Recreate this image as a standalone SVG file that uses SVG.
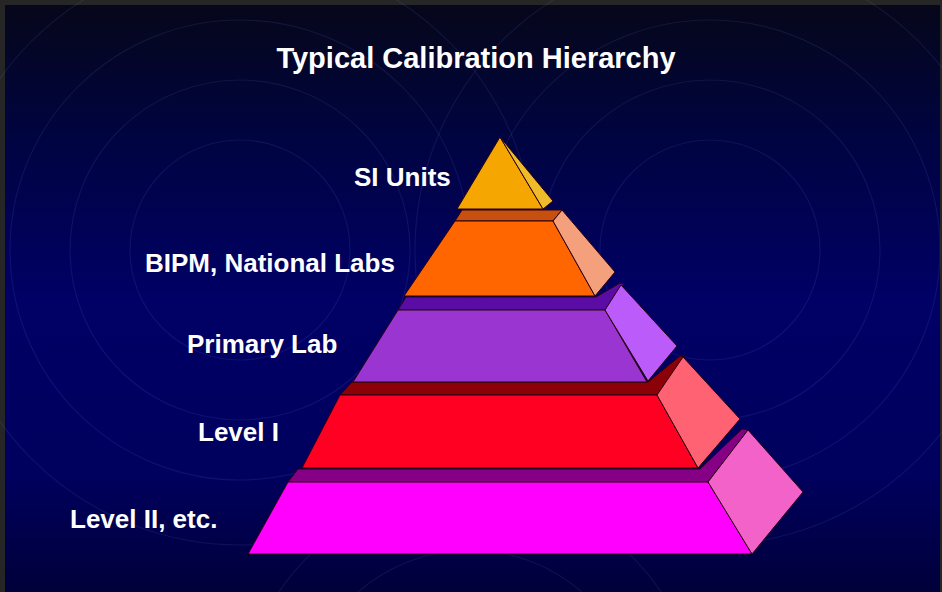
<svg xmlns="http://www.w3.org/2000/svg" width="942" height="592" viewBox="0 0 942 592">
  <defs>
    <linearGradient id="bg" x1="0" y1="0" x2="0" y2="1">
      <stop offset="0" stop-color="#06071a"/>
      <stop offset="0.22" stop-color="#00043f"/>
      <stop offset="0.5" stop-color="#000066"/>
      <stop offset="0.8" stop-color="#00005e"/>
      <stop offset="1" stop-color="#00003a"/>
    </linearGradient>
    <style>
      .arc { fill: none; stroke: #6f7fe0; stroke-opacity: 0.13; stroke-width: 1.2; }
      .face { stroke: #2a0010; stroke-width: 1; stroke-linejoin: round; }
      .lbl { font-family: "Liberation Sans", Arial, sans-serif; font-weight: bold; fill: #ffffff; font-size: 26px; }
      .title { font-family: "Liberation Sans", Arial, sans-serif; font-weight: bold; fill: #ffffff; font-size: 29px; }
    </style>
  </defs>

  <rect x="0" y="0" width="942" height="592" fill="#262626"/>
  <rect x="5" y="5" width="935" height="587" fill="url(#bg)"/>

  <g id="background-arcs">
    <circle class="arc" cx="240" cy="250" r="110"/>
    <circle class="arc" cx="240" cy="250" r="170"/>
    <circle class="arc" cx="240" cy="250" r="230"/>
    <circle class="arc" cx="240" cy="250" r="295"/>
    <circle class="arc" cx="710" cy="250" r="110"/>
    <circle class="arc" cx="710" cy="250" r="170"/>
    <circle class="arc" cx="710" cy="250" r="230"/>
    <circle class="arc" cx="710" cy="250" r="295"/>
    <circle class="arc" cx="470" cy="720" r="170"/>
    <circle class="arc" cx="470" cy="720" r="230"/>
  </g>

  <text id="title" class="title" x="476" y="68" text-anchor="middle">Typical Calibration Hierarchy</text>

  <g id="level2">
    <polygon class="face" fill="#860086" points="288,482 298,469 700,469 742,429 748,430 708,482"/>
    <polygon class="face" fill="#ff00ff" points="288,482 708,482 752,554 248,554"/>
    <polygon class="face" fill="#f262c8" points="708,482 748,430 803,492 752,554"/>
    <text class="lbl" x="70" y="528">Level II, etc.</text>
  </g>

  <g id="level1">
    <polygon class="face" fill="#8c0008" points="340,395 352,382 648,382 680,356 685,357 657,395"/>
    <polygon class="face" fill="#ff0022" points="340,395 657,395 698,468 302,468"/>
    <polygon class="face" fill="#ff6272" points="657,395 683,357 740,419 698,468"/>
    <text class="lbl" x="198" y="441">Level I</text>
  </g>

  <g id="primary-lab">
    <polygon class="face" fill="#5a0ca4" points="398,310 406,297 596,297 620,283 624,284 605,310"/>
    <polygon class="face" fill="#9a35d2" points="398,310 605,310 647,382 353,382"/>
    <polygon class="face" fill="#bb5cfa" points="605,310 621,285 677,346 648,381"/>
    <text class="lbl" x="187" y="353">Primary Lab</text>
  </g>

  <g id="national-labs">
    <polygon class="face" fill="#c8500e" points="455,221 462,210 562,210 553,221"/>
    <polygon class="face" fill="#ff6600" points="455,221 553,221 595,296 404,296"/>
    <polygon class="face" fill="#f4a07c" points="553,221 562,210 615,272 595,296"/>
    <text class="lbl" x="145" y="272">BIPM, National Labs</text>
  </g>

  <g id="si-units">
    <polygon class="face" fill="#f6a600" points="500,137 543,209 457,209"/>
    <polygon class="face" fill="#eebb2a" points="500,137 553,201 543,209"/>
    <text class="lbl" x="354" y="186">SI Units</text>
  </g>
</svg>
